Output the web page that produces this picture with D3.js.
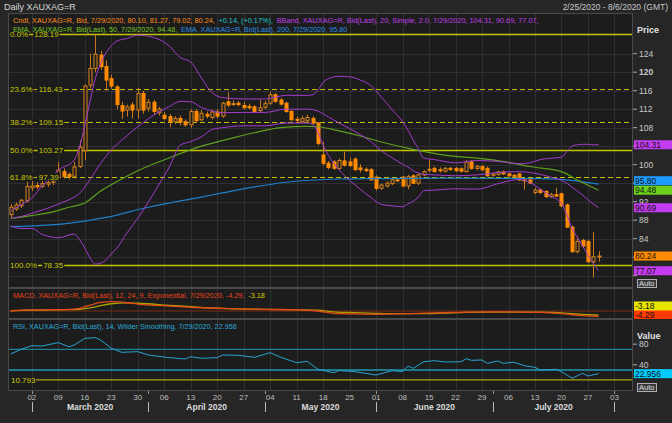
<!DOCTYPE html>
<html>
<head>
<meta charset="utf-8">
<title>Daily XAUXAG=R</title>
<script src="https://d3js.org/d3.v7.min.js"></script>
<style>
body { margin: 0; background: #262626; }
svg { display: block; font-family: "Liberation Sans", Arial, sans-serif; }
</style>
</head>
<body>
<script>
// trading days on the x axis: weekdays from 2/25/2020 to 8/6/2020
var days = d3.timeDays(new Date(2020, 1, 25), new Date(2020, 7, 7)).filter(function(d){ return d.getDay() % 6 != 0; });

// daily candles, 2/25/2020 .. 7/29/2020
var opens = [89.2,90.4,91.1,92.2,95.0,95.5,95.3,95.8,96.2,97.3,
  98.5,97.9,97.5,99.6,103.0,117.2,120.8,123.7,121.2,118.6,
  116.8,112.8,111.8,112.9,111.8,115.4,112.2,113.5,111.2,110.7,
  110.4,109.3,110.0,109.3,108.6,111.5,109.7,110.9,110.2,111.4,
  110.5,113.6,113.0,113.3,112.8,112.6,112.5,111.7,112.4,113.3,
  115.1,114.0,113.3,111.5,109.8,109.3,109.5,110.0,109.0,102.1,
  100.3,100.6,99.2,100.8,100.6,101.2,99.3,99.0,98.9,97.3,
  94.9,95.4,95.9,96.7,97.3,95.4,97.6,96.0,97.8,98.8,
  99.2,98.9,98.6,99.2,99.2,99.1,98.5,100.6,99.2,99.6,
  99.2,97.7,97.9,98.4,98.0,97.7,98.0,96.7,96.7,94.0,
  94.5,94.2,93.1,93.5,93.7,91.3,86.5,81.2,83.6,83.4,
  79.0,80.10];
var highs = [91.5,91.8,92.6,96.3,96.5,96.2,96.6,96.8,96.9,100.6,
  99.2,98.3,100.6,105.2,117.3,124.0,128.19,124.6,122.6,119.5,
  117.2,113.6,113.0,113.5,116.6,116.0,114.2,114.0,112.5,111.4,
  111.0,110.5,110.6,109.8,112.0,112.0,111.8,111.5,111.9,112.0,
  113.6,115.6,113.9,113.7,113.6,113.2,112.9,114.0,113.8,115.8,
  115.5,114.4,113.6,111.8,110.4,110.6,110.8,110.5,109.3,104.9,
  100.8,101.0,101.3,102.8,101.5,101.6,100.1,99.4,99.3,97.7,
  95.9,96.4,97.1,97.0,97.6,97.8,97.9,98.1,98.8,101.0,
  99.6,99.4,99.5,99.5,99.5,99.4,101.0,101.0,100.0,99.9,
  99.6,98.3,98.7,98.7,98.3,98.0,98.2,97.0,97.0,95.0,
  94.8,94.5,93.9,95.0,94.0,91.6,86.8,84.5,84.0,83.8,
  85.5,81.27];
var lows = [88.6,90.0,90.6,91.8,94.3,94.7,95.0,95.2,95.6,96.7,
  97.0,96.8,97.0,99.3,101.0,116.5,120.0,120.5,116.0,116.4,
  112.0,109.9,110.4,110.0,110.0,111.0,111.5,110.8,110.6,109.6,
  108.1,108.8,108.5,108.2,108.0,109.0,109.4,110.0,109.8,110.0,
  110.2,112.4,112.8,112.6,112.0,112.0,111.2,111.3,112.0,112.9,
  113.4,112.8,111.2,109.5,109.1,109.0,109.2,108.7,104.2,99.8,
  99.0,98.9,98.9,99.6,99.5,98.7,98.3,98.4,96.5,94.4,
  94.6,95.1,95.6,96.3,95.1,94.7,95.8,95.6,97.5,98.3,
  98.3,98.3,98.3,98.6,98.4,98.3,98.3,98.9,98.8,98.6,
  97.4,97.4,97.6,97.8,97.3,97.2,96.5,94.6,95.8,93.6,
  93.7,92.8,92.8,93.0,90.8,86.3,80.9,80.8,82.0,78.8,
  75.6,79.02];
var closes = [90.8,91.3,92.3,95.3,95.4,95.2,95.9,96.1,96.5,98.8,
  97.4,97.4,99.5,103.8,117.0,120.8,123.9,121.2,118.3,117.0,
  113.0,111.6,112.5,111.8,115.4,111.8,113.5,111.5,112.0,110.0,
  109.3,110.0,109.2,108.6,111.5,109.5,111.1,110.5,111.4,110.5,
  113.3,112.9,113.2,113.0,112.3,112.3,111.5,112.3,113.2,115.1,
  113.7,113.1,111.5,109.7,109.6,110.0,110.2,109.0,104.6,100.3,
  99.4,99.2,100.9,99.9,99.8,98.9,98.9,98.7,96.7,94.9,
  95.6,96.0,96.7,96.6,95.4,97.4,96.0,97.8,98.5,99.0,
  98.5,98.7,99.2,99.0,98.7,98.6,100.6,99.2,99.6,98.9,
  97.6,98.0,98.4,98.0,97.6,97.5,96.7,96.6,96.0,94.5,
  94.0,93.1,93.5,93.2,91.1,86.5,81.2,83.4,82.4,79.0,
  80.1,80.24];

// Bollinger band (20, 2.0) read at these trading-day numbers
var bbIdx = [0,2,4,6,8,9,12,13,14,15,16,17,18,19,20,22,24,28,30,32,34,36,38,40,44,48,52,56,57,58,59,60,62,64,66,68,70,72,74,75,76,77,78,80,84,88,92,96,98,100,102,104,105,106,107,108,109,110,111];
var bbUpper = [90.0,91.4,92.8,95.5,97.7,98.8,101.0,103.8,108.4,113.8,118.7,121.9,124.2,125.7,126.7,127.3,128.0,127.1,125.6,123.2,122.2,118.8,115.6,114.5,114.2,114.2,115.0,115.0,115.1,116.1,117.8,118.6,119.1,119.0,118.3,117.1,114.6,111.9,109.3,107.5,105.3,103.4,101.4,101.1,100.4,100.9,100.7,100.2,100.4,101.1,101.4,101.6,102.8,104.0,104.3,104.4,104.4,104.3,104.31];
var bbMiddle = [88.4,88.8,89.5,90.2,91.0,91.5,93.0,93.8,95.2,96.8,98.6,100.3,101.8,103.2,104.3,106.3,108.2,111.4,112.6,113.7,113.6,112.4,111.6,111.25,111.3,111.3,112.0,112.0,111.9,111.6,111.0,110.3,109.0,107.8,106.5,105.0,103.0,101.5,100.1,99.5,98.7,98.2,97.9,97.8,97.6,97.8,98.3,98.5,98.3,97.9,97.3,96.6,96.0,95.1,94.3,93.4,92.4,91.5,90.69];
var bbLower = [86.8,86.2,86.2,84.9,84.3,84.2,85.0,83.8,82.0,79.8,78.5,78.7,79.4,80.7,81.9,85.3,88.4,95.7,99.6,104.2,105.0,106.0,107.6,108.0,108.4,108.4,109.0,109.0,108.7,107.1,104.2,102.0,98.9,96.6,94.7,92.9,91.4,91.1,90.9,91.5,92.1,93.0,94.4,94.5,94.8,94.7,95.9,96.8,96.2,94.7,93.2,91.6,89.2,86.2,84.3,82.4,80.4,78.7,77.07];

// EMA 50 and EMA 200
var ema50Idx = [0,4,8,11,14,17,20,24,30,36,42,46,51,56,58,62,66,70,76,83,88,94,98,104,107,111];
var ema50 = [88.4,89.0,89.8,90.8,91.7,94.3,96.3,98.7,101.5,104.0,105.8,106.9,108.0,108.3,108.2,107.3,106.2,104.9,103.3,101.9,101.4,100.5,99.6,98.5,96.7,94.48];
var ema200Idx = [0,10,18,26,36,40,46,52,62,70,84,100,104,108,111];
var ema200 = [86.6,87.2,88.6,90.8,93.0,93.9,95.2,96.2,96.9,97.0,97.1,97.0,96.8,96.3,95.80];

// Fibonacci retracement
var fibPct = ["0.0%", "23.6%", "38.2%", "50.0%", "61.8%", "100.0%"];
var fibVal = [128.19, 116.43, 109.15, 103.27, 97.39, 78.35];

// MACD (12, 24, 9)
var macdIdx = [0,4,8,11,13,14,16,17,19,22,24,30,36,42,48,55,58,61,65,69,73,77,82,86,92,96,100,102,104,106,108,110,111];
var macdLine = [0.2,0.8,1.0,1.3,2.0,3.3,5.8,6.7,7.2,6.4,5.4,3.8,2.5,1.8,1.3,0.8,0.0,-1.8,-2.3,-2.5,-2.3,-1.8,-1.2,-0.8,-0.7,-0.8,-1.1,-1.5,-2.0,-2.9,-3.6,-4.1,-4.29];
var macdSignal = [0.2,0.6,0.8,1.0,1.3,1.8,3.2,4.2,5.6,6.3,6.0,4.4,2.8,1.6,1.3,0.9,0.6,-0.6,-1.3,-1.8,-2.1,-2.1,-1.6,-1.1,-0.9,-0.8,-0.9,-1.1,-1.4,-2.0,-2.6,-3.0,-3.18];

// RSI (14, Wilder)
var rsiIdx = [0,2,4,6,9,11,12,14,16,17,19,21,24,26,30,33,34,36,39,40,43,46,49,51,54,56,58,61,62,65,69,72,74,75,76,78,80,82,85,86,87,89,90,92,93,95,97,99,100,103,104,106,108,109,111];
var rsi = [61,70,77,76.4,83,75,78.3,91.2,92.5,88,71.9,64.2,65.4,59,53.8,51.3,55.7,52.6,53.8,59,58.4,54.5,63.4,54.5,44.1,46.8,31.4,24.8,29,26.8,20.3,28.7,26.8,37.7,33.2,46,48,45.5,46,51.8,48.7,49.3,42.9,47.4,42.9,44.9,38.3,35.2,30,31.4,26.8,14,23.6,18.4,22.956];
var rsiLevels = [70, 30];
var rsiLow = 10.793;

// axis ticks
var priceTicks = [76, 80, 84, 88, 92, 96, 100, 104, 108, 112, 116, 120, 124];
var rsiTicks = [40, 80];

var W = 672, H = 423;
var L = 8, R = 633;
var pTop = 13, pBot = 288, mTop = 288, mBot = 319, rTop = 319, rBot = 391;
var plotBg = "#1c1c1c";

var svg = d3.select("body").append("svg").attr("width", W).attr("height", H);
svg.append("rect").attr("width", W).attr("height", H).attr("fill", "#262626");

[[pTop, pBot], [mTop, mBot], [rTop, rBot]].forEach(function(p){
  svg.append("rect").attr("x", L + 0.5).attr("y", p[0] + 0.5)
    .attr("width", R - L - 1).attr("height", p[1] - p[0] - 1)
    .attr("fill", plotBg).attr("stroke", "#4a4a4a");
});

var x = d3.scaleBand().domain(d3.range(days.length)).range([L, R]).paddingInner(0.36).paddingOuter(0.18);
function cx(i){ return x(i) + x.bandwidth() / 2; }
var y = d3.scaleLinear().domain([78.35, 128.19]).range([264.8, 34.3]);
var yM = d3.scaleLinear().domain([0, 7.2]).range([311, 301.7]);
var yR = d3.scaleLinear().domain([30, 70]).range([370, 349.3]);

var mondays = d3.range(days.length).filter(function(i){ return days[i].getDay() == 1; });

// grid
var grid = svg.append("g").attr("stroke", "#2f2f2f").attr("stroke-width", 1);
mondays.forEach(function(i){
  var xx = Math.round(cx(i)) + 0.5;
  [[pTop, pBot], [mTop, mBot], [rTop, rBot]].forEach(function(p){
    grid.append("line").attr("x1", xx).attr("x2", xx).attr("y1", p[0] + 1).attr("y2", p[1] - 1);
  });
});
priceTicks.forEach(function(t){
  var yy = Math.round(y(t)) + 0.5;
  grid.append("line").attr("x1", L + 1).attr("x2", R - 1).attr("y1", yy).attr("y2", yy);
});

svg.append("clipPath").attr("id", "pclip").append("rect")
  .attr("x", L + 1).attr("y", pTop + 1).attr("width", R - L - 2).attr("height", pBot - pTop - 2);
svg.append("clipPath").attr("id", "mclip").append("rect")
  .attr("x", L + 1).attr("y", mTop + 1).attr("width", R - L - 2).attr("height", mBot - mTop - 2);
svg.append("clipPath").attr("id", "rclip").append("rect")
  .attr("x", L + 1).attr("y", rTop + 1).attr("width", R - L - 2).attr("height", rBot - rTop - 2);

var price = svg.append("g").attr("clip-path", "url(#pclip)");

// fibonacci lines
fibVal.forEach(function(v, k){
  var dashed = [23.6, 38.2, 61.8].indexOf(parseFloat(fibPct[k])) >= 0;
  price.append("line").attr("x1", L).attr("x2", R)
    .attr("y1", Math.round(y(v)) + 0.5).attr("y2", Math.round(y(v)) + 0.5)
    .attr("stroke", "#c2c200").attr("stroke-width", dashed ? 1 : 1.3)
    .attr("stroke-dasharray", dashed ? "5,3" : null);
});

// candles
var n = closes.length;
var candles = price.append("g");
d3.range(n).forEach(function(i){
  var up = closes[i] >= opens[i];
  var xc = Math.round(cx(i)) + 0.5;
  candles.append("line").attr("x1", xc).attr("x2", xc)
    .attr("y1", y(highs[i])).attr("y2", y(lows[i]))
    .attr("stroke", "#c9781a").attr("stroke-width", 1);
  var top = y(Math.max(opens[i], closes[i])), bot = y(Math.min(opens[i], closes[i]));
  candles.append("rect").attr("x", xc - 1.5).attr("width", 3)
    .attr("y", top).attr("height", Math.max(1, bot - top))
    .attr("fill", up ? plotBg : "#ff8a00")
    .attr("stroke", up ? "#d8841c" : "#ff8a00").attr("stroke-width", 1);
});

function curve(idx, vals, scale){
  return d3.line().x(function(d, k){ return cx(idx[k]); })
    .y(function(d){ return scale(d); }).curve(d3.curveMonotoneX)(vals);
}
price.append("path").attr("d", curve(ema200Idx, ema200, y)).attr("fill", "none").attr("stroke", "#1f7fc8").attr("stroke-width", 1.2);
price.append("path").attr("d", curve(ema50Idx, ema50, y)).attr("fill", "none").attr("stroke", "#5f9f1c").attr("stroke-width", 1.2);
[bbUpper, bbMiddle, bbLower].forEach(function(s){
  price.append("path").attr("d", curve(bbIdx, s, y)).attr("fill", "none").attr("stroke", "#a43cd0").attr("stroke-width", 1);
});

// fibonacci labels
fibVal.forEach(function(v, k){
  var yy = y(v);
  var g = svg.append("g").attr("font-size", "8px").attr("fill", "#c8c800");
  var t1 = g.append("text").attr("x", 10).attr("y", yy + 3).text(fibPct[k]);
  var w1 = t1.node().getComputedTextLength();
  var t2 = g.append("text").attr("x", 10 + w1 + 6).attr("y", yy + 3).text(v.toFixed(2));
  var w2 = t2.node().getComputedTextLength();
  g.insert("rect", "text").attr("x", 9).attr("y", yy - 4).attr("width", w1 + 2).attr("height", 8).attr("fill", plotBg);
  g.insert("rect", "text").attr("x", 10 + w1 + 5).attr("y", yy - 4).attr("width", w2 + 2).attr("height", 8).attr("fill", plotBg);
});

// MACD panel
var macd = svg.append("g").attr("clip-path", "url(#mclip)");
macd.append("line").attr("x1", L).attr("x2", R).attr("y1", yM(0)).attr("y2", yM(0)).attr("stroke", "#7a2a12");
macd.append("path").attr("d", curve(macdIdx, macdSignal, yM)).attr("fill", "none").attr("stroke", "#aaa000").attr("stroke-width", 1.3);
macd.append("path").attr("d", curve(macdIdx, macdLine, yM)).attr("fill", "none").attr("stroke", "#e24a1a").attr("stroke-width", 1.3);

// RSI panel
var rsiG = svg.append("g").attr("clip-path", "url(#rclip)");
rsiLevels.forEach(function(v){
  rsiG.append("line").attr("x1", L).attr("x2", R).attr("y1", yR(v)).attr("y2", yR(v)).attr("stroke", "#1f98b6").attr("stroke-width", v == 30 ? 1.5 : 1);
});
rsiG.append("line").attr("x1", 36).attr("x2", R).attr("y1", yR(rsiLow)).attr("y2", yR(rsiLow)).attr("stroke", "#a8a400").attr("stroke-width", 1.3);
rsiG.append("path").attr("d", d3.line().x(function(d, k){ return cx(rsiIdx[k]); }).y(function(d){ return yR(d); })(rsi))
  .attr("fill", "none").attr("stroke", "#2aa3d4").attr("stroke-width", 1);
svg.append("text").attr("x", 11).attr("y", yR(rsiLow) + 3).attr("font-size", "8px").attr("fill", "#d0d000").text(rsiLow.toFixed(3));

// value tags on the right axis
var last = n - 1;
var priceTags = [
  [bbUpper[bbUpper.length - 1], "#c43cf0"],
  [ema200[ema200.length - 1], "#1e9bff"],
  [ema50[ema50.length - 1], "#6cd21c"],
  [bbMiddle[bbMiddle.length - 1], "#c43cf0"],
  [closes[last], "#ff8c00"],
  [bbLower[bbLower.length - 1], "#c43cf0"]
].map(function(d){ return { v: d[0], bg: d[1], yc: y(d[0]) }; });
priceTags.sort(function(a, b){ return b.yc - a.yc; });
for (var k = 1; k < priceTags.length; k++) {
  if (priceTags[k - 1].yc - priceTags[k].yc < 9.5) priceTags[k].yc = priceTags[k - 1].yc - 9.5;
}

// right axes (labels hidden behind a tag are left out, as on screen)
var axis = svg.append("g").attr("font-size", "8.5px").attr("fill", "#c8c8c8");
priceTicks.forEach(function(t){
  axis.append("line").attr("x1", R).attr("x2", R + 4).attr("y1", y(t)).attr("y2", y(t)).attr("stroke", "#aaa");
  var covered = priceTags.some(function(d){ return Math.abs(d.yc - y(t)) < 5.5; });
  if (!covered) axis.append("text").attr("x", R + 6).attr("y", y(t) + 3).attr("font-weight", t == 120 ? "bold" : null).text(t);
});
rsiTicks.forEach(function(t){
  axis.append("line").attr("x1", R).attr("x2", R + 4).attr("y1", yR(t)).attr("y2", yR(t)).attr("stroke", "#aaa");
  axis.append("text").attr("x", R + 6).attr("y", yR(t) + 3).text(t);
});
axis.append("text").attr("x", 637).attr("y", 33).attr("font-weight", "bold").attr("fill", "#e0e0e0").attr("font-size", "9px").text("Price");
axis.append("text").attr("x", 637).attr("y", 339).attr("font-weight", "bold").attr("fill", "#e0e0e0").attr("font-size", "9px").text("Value");

function tag(yc, label, bg){
  svg.append("rect").attr("x", R + 1).attr("y", yc - 4.5).attr("width", W - R - 1).attr("height", 9).attr("fill", bg);
  svg.append("text").attr("x", R + 2).attr("y", yc + 3).attr("font-size", "8.5px").attr("fill", "#111").text(label);
}
priceTags.forEach(function(d){ tag(d.yc, d.v.toFixed(2), d.bg); });

var mLast = macdLine[macdLine.length - 1], sLast = macdSignal[macdSignal.length - 1];
var redY = Math.min(yM(mLast), mBot - 4.5);
var yelY = Math.min(yM(sLast), redY - 8.5);
tag(redY, mLast.toFixed(2), "#ff3a00");
tag(yelY, sLast.toFixed(2), "#e8e400");
tag(yR(rsi[rsi.length - 1]), rsi[rsi.length - 1].toFixed(3), "#00ccff");

function autoBox(yy){
  svg.append("rect").attr("x", 637.5).attr("y", yy + 0.5).attr("width", 19).attr("height", 8).attr("fill", "#383838").attr("stroke", "#b0b0b0");
  svg.append("text").attr("x", 639).attr("y", yy + 7).attr("font-size", "7.5px").attr("fill", "#e0e0e0").text("Auto");
}
autoBox(279);
autoBox(383);

// x axis
var xa = svg.append("g").attr("font-size", "8px").attr("fill", "#bdbdbd").attr("text-anchor", "middle");
mondays.forEach(function(i){
  xa.append("text").attr("x", cx(i)).attr("y", 400).text(d3.timeFormat("%d")(days[i]));
});
var monthStarts = d3.range(1, days.length).filter(function(i){ return days[i].getMonth() != days[i - 1].getMonth(); });
monthStarts.forEach(function(i){
  var xx = Math.round(cx(i)) + 0.5;
  svg.append("line").attr("x1", xx).attr("x2", xx).attr("y1", 402).attr("y2", 412).attr("stroke", "#bbb");
  svg.append("line").attr("x1", xx).attr("x2", xx).attr("y1", rBot).attr("y2", rBot + 3).attr("stroke", "#999");
});
for (var m = 0; m + 1 < monthStarts.length; m++) {
  var a = cx(monthStarts[m]), b = cx(monthStarts[m + 1]);
  svg.append("text").attr("x", (a + b) / 2).attr("y", 410).attr("text-anchor", "middle")
    .attr("font-size", "8.5px").attr("font-weight", "bold").attr("fill", "#dcdcdc")
    .text(d3.timeFormat("%B %Y")(days[monthStarts[m]]));
}

// header
svg.append("text").attr("x", 4).attr("y", 10).attr("font-size", "9px").attr("fill", "#d8d8d8").text("Daily XAUXAG=R");
svg.append("text").attr("x", 668).attr("y", 10).attr("text-anchor", "end").attr("font-size", "8.5px").attr("fill", "#c8c8c8").text("2/25/2020 - 8/6/2020 (GMT)");

// legends: one font size per line, chosen so the line ends where it does on screen
function f2(v){ return v.toFixed(2); }
var chg = closes[last] - closes[last - 1];
function legend(yy, x0, x1, parts){
  var g = svg.append("g").attr("font-size", "8px");
  var texts = parts.map(function(p){ return g.append("text").attr("y", yy).attr("fill", p[0]).text(p[1]); });
  var gap = 4;
  var total = d3.sum(texts, function(t){ return t.node().getComputedTextLength(); }) + gap * (texts.length - 1);
  var s = (x1 - x0) / total;
  g.attr("font-size", (8 * s).toFixed(2) + "px");
  var xx = x0;
  texts.forEach(function(t){
    t.attr("x", xx);
    xx += t.node().getComputedTextLength() + gap * s;
  });
}
legend(23, 13, 539, [
  ["#ff8c1a", "Cndl, XAUXAG=R, Bid, 7/29/2020, " + [opens[last], highs[last], lows[last], closes[last]].map(f2).join(", ") + ","],
  ["#21c6c6", "+" + f2(chg) + ", (+" + f2(chg / closes[last - 1] * 100) + "%),"],
  ["#c040e8", "BBand, XAUXAG=R, Bid(Last), 20, Simple, 2.0, 7/29/2020, " + [bbUpper[bbUpper.length - 1], bbMiddle[bbMiddle.length - 1], bbLower[bbLower.length - 1]].map(f2).join(", ") + ","]
]);
legend(31.5, 13, 348, [
  ["#78c81e", "EMA, XAUXAG=R, Bid(Last), 50, 7/29/2020, " + f2(ema50[ema50.length - 1]) + ","],
  ["#2a8ee8", "EMA, XAUXAG=R, Bid(Last), 200, 7/29/2020, " + f2(ema200[ema200.length - 1])]
]);
legend(298, 13, 265, [
  ["#e8441a", "MACD, XAUXAG=R, Bid(Last), 12, 24, 9, Exponential, 7/29/2020, " + f2(mLast) + ","],
  ["#d0d000", f2(sLast)]
]);
legend(328.5, 13, 237, [
  ["#2aa8d8", "RSI, XAUXAG=R, Bid(Last), 14, Wilder Smoothing, 7/29/2020, " + rsi[rsi.length - 1].toFixed(3)]
]);
</script>
</body>
</html>
